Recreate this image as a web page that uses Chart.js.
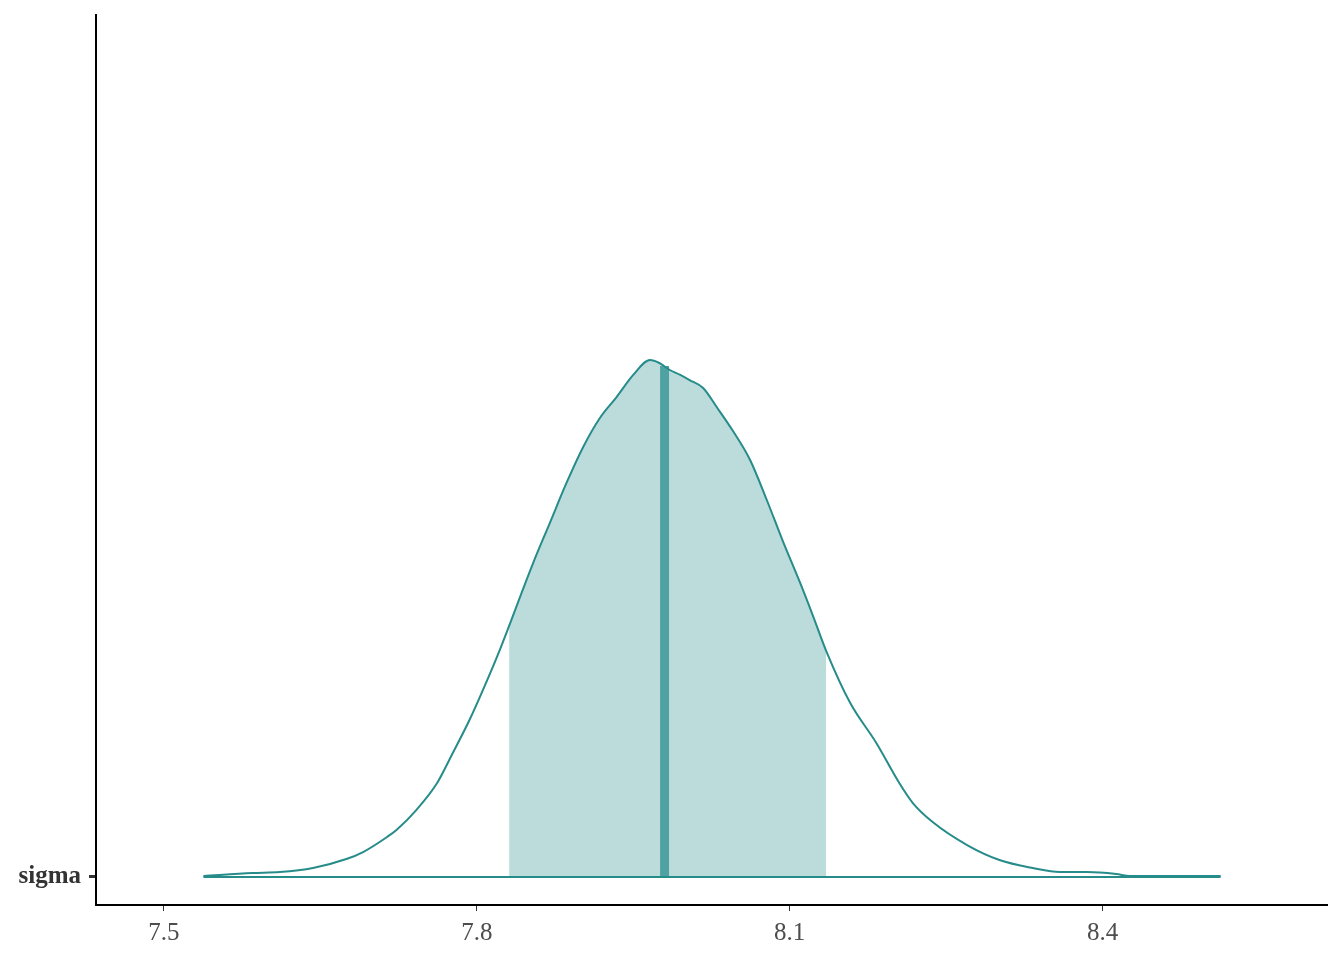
<!DOCTYPE html>
<html>
<head>
<meta charset="utf-8">
<script src="https://cdn.jsdelivr.net/npm/chart.js@4.4.1/dist/chart.umd.min.js"></script>
<style>
  body { margin: 0; background: #fff; }
  #plot { position: absolute; left: 0; top: 0; }
</style>
</head>
<body>
<canvas id="plot" width="1344" height="960"></canvas>
<script>
// posterior density of sigma
var densX = [7.538, 7.585, 7.611, 7.643, 7.675, 7.691, 7.714, 7.723, 7.742, 7.762,
  7.777, 7.793, 7.810, 7.822, 7.854, 7.870, 7.886, 7.902,
  7.918, 7.934, 7.950, 7.966, 7.975, 7.985, 7.995, 8.004, 8.017, 8.030,
  8.045, 8.062, 8.078, 8.093, 8.110, 8.122, 8.135, 8.158, 8.183, 8.205,
  8.218, 8.237, 8.270, 8.301, 8.333, 8.359, 8.385, 8.413, 8.426, 8.513];
var densY = [0.008, 0.031, 0.038, 0.069, 0.138, 0.192, 0.308, 0.362, 0.515, 0.723,
  0.954, 1.208, 1.515, 1.746, 2.415, 2.723, 3.031, 3.308,
  3.531, 3.692, 3.862, 3.977, 3.954, 3.900, 3.862, 3.823, 3.762, 3.615,
  3.438, 3.208, 2.900, 2.592, 2.262, 2.015, 1.738, 1.338, 1.031, 0.723,
  0.569, 0.423, 0.246, 0.131, 0.069, 0.038, 0.038, 0.023, 0.008, 0.008];

// shaded interval
var innerX = [7.831, 7.854, 7.870, 7.886, 7.902, 7.918, 7.934, 7.950, 7.966,
  7.975, 7.985, 7.995, 8.004, 8.017, 8.030, 8.045, 8.062, 8.078, 8.093,
  8.110, 8.122, 8.135];
var innerY = [1.930, 2.415, 2.723, 3.031, 3.308, 3.531, 3.692, 3.862, 3.977,
  3.954, 3.900, 3.862, 3.823, 3.762, 3.615, 3.438, 3.208, 2.900, 2.592,
  2.262, 2.015, 1.738];

var medianX = 7.980;
var medianTop = 3.93;

var xTicks = [7.5, 7.8, 8.1, 8.4];
var yLabels = ["sigma"];

var teal = "#268c8a";

function pts(xs, ys) {
  return xs.map(function (x, i) { return { x: x, y: ys[i] }; });
}

var ctx = document.getElementById("plot").getContext("2d");
var chart = new Chart(ctx, {
  type: "line",
  data: {
    datasets: [
      {
        data: pts(densX, densY),
        borderColor: teal,
        borderWidth: 2,
        fill: false,
        pointRadius: 0,
        cubicInterpolationMode: "monotone",
        order: 0
      },
      {
        data: [{ x: densX[0], y: 0 }, { x: densX[densX.length - 1], y: 0 }],
        borderColor: teal,
        borderWidth: 2,
        fill: false,
        pointRadius: 0,
        order: 1
      },
      {
        data: [{ x: medianX, y: 0 }, { x: medianX, y: medianTop }],
        borderColor: "#4fa2a1",
        borderWidth: 9,
        borderCapStyle: "butt",
        fill: false,
        pointRadius: 0,
        order: 2
      },
      {
        data: pts(innerX, innerY),
        borderWidth: 0,
        borderColor: "rgba(0,0,0,0)",
        backgroundColor: "#bcdcdc",
        fill: "origin",
        pointRadius: 0,
        cubicInterpolationMode: "monotone",
        order: 3
      }
    ]
  },
  options: {
    responsive: false,
    devicePixelRatio: 1,
    animation: false,
    layout: { padding: { top: 15, right: 17, left: 0, bottom: 0 } },
    plugins: { legend: { display: false }, tooltip: { enabled: false } },
    scales: {
      x: {
        type: "linear",
        min: 7.435,
        max: 8.615,
        afterBuildTicks: function (scale) {
          scale.ticks = xTicks.map(function (v) { return { value: v }; });
        },
        afterFit: function (scale) { scale.height = 55; },
        ticks: {
          callback: function (v) { return v.toFixed(1); },
          color: "#4d4d4d",
          font: { family: "Liberation Serif", size: 25 },
          padding: 7,
          maxRotation: 0
        },
        grid: {
          drawOnChartArea: false,
          tickLength: 6,
          tickWidth: 1,
          tickColor: "#333"
        },
        border: { color: "#000", width: 2 }
      },
      y: {
        type: "linear",
        min: -0.2154,
        max: 6.6308,
        afterBuildTicks: function (scale) {
          scale.ticks = [{ value: 0 }];
        },
        afterFit: function (scale) {
          scale.width = 96;
          scale.paddingTop = 0;
          scale.paddingBottom = 0;
        },
        ticks: {
          callback: function (v, i) { return yLabels[i]; },
          color: "#333",
          font: { family: "Liberation Serif", size: 25, weight: "bold" },
          padding: 8
        },
        grid: {
          drawOnChartArea: false,
          tickLength: 7,
          tickWidth: 3,
          tickColor: "#333"
        },
        border: { color: "#000", width: 2 }
      }
    }
  }
});
</script>
</body>
</html>
